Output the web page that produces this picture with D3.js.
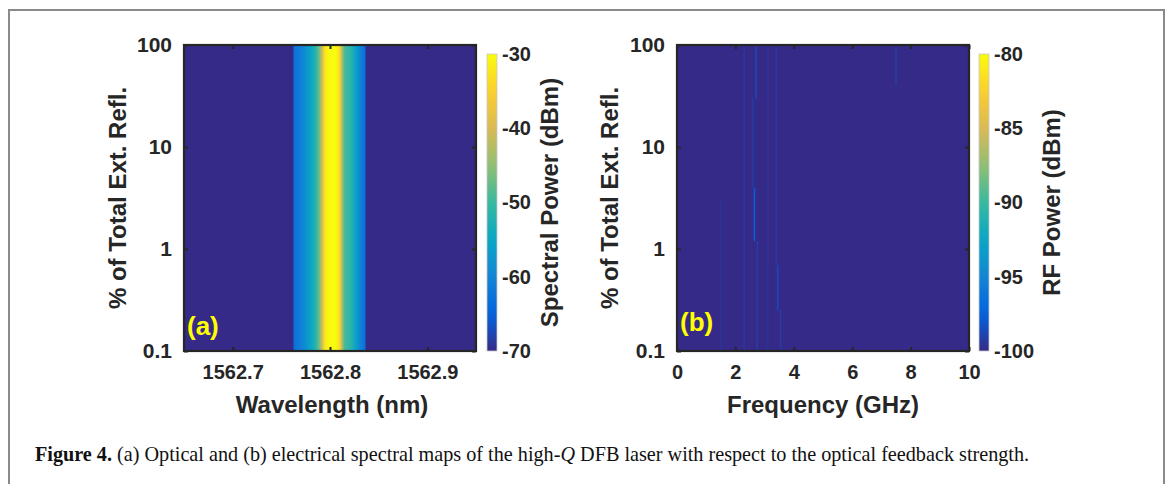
<!DOCTYPE html>
<html>
<head>
<meta charset="utf-8">
<script src="https://cdn.jsdelivr.net/npm/d3@7"></script>
<style>
  body { margin: 0; background: #fff; }
  svg { display: block; }
  .tick text { font-family: "Liberation Sans", Arial, sans-serif; font-weight: bold; font-size: 20px; fill: #262626; }
  .lbl { font-family: "Liberation Sans", Arial, sans-serif; font-weight: bold; font-size: 24px; fill: #262626; }
  .cap { font-family: "Liberation Serif", "DejaVu Serif", serif; font-size: 20.2px; fill: #111; }
</style>
</head>
<body>
<script>

// ---- data ----
// feedback levels (% of total external reflection), row edges of both maps
var feedbackPct = [0.1, 0.2, 0.5, 1, 2, 5, 10, 20, 50, 100];

// (a) optical spectrum, same for every feedback level
var wavelengthNm = [1562.65, 1562.762, 1562.763, 1562.770, 1562.779, 1562.785, 1562.789, 1562.792, 1562.795,
                    1562.800, 1562.806, 1562.810, 1562.812, 1562.815, 1562.822, 1562.827, 1562.832, 1562.836, 1562.837, 1562.95];
var opticalDbm   = [-70, -70, -63, -61, -56, -52, -47, -40, -32,
                    -30, -30, -34, -42, -49, -52, -56, -61, -63, -70, -70];

// (b) RF map: background floor and the few faint streaks
var rfFloorDbm = -100;
var rfStreakGHz     = [2.65, 2.6, 2.7, 2.75, 3.45, 3.4, 3.55, 2.3, 7.5, 1.5, 3.1];
var rfStreakLowPct  = [1.2, 4, 30, 0.1, 0.25, 0.7, 0.1, 0.1, 40, 0.1, 0.1];
var rfStreakHighPct = [4, 30, 100, 1.2, 0.7, 100, 0.25, 100, 100, 3, 100];
var rfStreakDbm     = [-97.8, -99.2, -98.8, -99.2, -98.6, -99.4, -99.2, -99.5, -99.2, -99.6, -99.6];

var yTicks = [0.1, 1, 10, 100];
var wlTicks = [1562.7, 1562.8, 1562.9];
var fTicks = [0, 2, 4, 6, 8, 10];
var cbTicksA = [-70, -60, -50, -40, -30];
var cbTicksB = [-100, -95, -90, -85, -80];

// parula-like colormap
var parula = ["#352a87", "#0363e1", "#1485d4", "#06a7c6", "#38b99e", "#92bf73", "#d9ba56", "#fcce2e", "#f9fb0e"];
var parulaInterp = d3.piecewise(d3.interpolateRgb, parula);

var W = 1171, H = 484;
var svg = d3.select("body").append("svg").attr("width", W).attr("height", H);
var defs = svg.append("defs");

defs.append("filter").attr("id", "soft").attr("x", "-200%").attr("width", "500%")
    .append("feGaussianBlur").attr("stdDeviation", "0.7 0");

// outer frame
svg.append("path")
   .attr("d", "M9,490 L9,10 L1164,10 L1164,490")
   .attr("fill", "none")
   .attr("stroke", "#8a8a8a")
   .attr("stroke-width", 2);

var plotTop = 45, plotBot = 351;
var y = d3.scaleLog().domain([0.1, 100]).range([plotBot, plotTop]);

function hyphen(f) {
    return function(d){ return f(d).replace("\u2212", "-"); };
}

function frameAxes(g, x, xt, xfmt, left, right) {
    g.append("rect")
     .attr("x", left).attr("y", plotTop)
     .attr("width", right - left).attr("height", plotBot - plotTop)
     .attr("fill", "none").attr("stroke", "#262626").attr("stroke-width", 2.2);

    var yl = g.append("g").attr("transform", "translate(" + left + ",0)")
              .call(d3.axisLeft(y).tickValues(yTicks).tickSize(-4).tickPadding(12)
                      .tickFormat(function(d){ return d < 1 ? "0.1" : d3.format("d")(d); }));
    var yr = g.append("g").attr("transform", "translate(" + right + ",0)")
              .call(d3.axisRight(y).tickValues(yTicks).tickSize(-4).tickFormat(""));
    var xbt = g.append("g").attr("transform", "translate(0," + plotBot + ")")
              .call(d3.axisBottom(x).tickValues(xt).tickSize(-4).tickPadding(14).tickFormat(xfmt));
    var xtp = g.append("g").attr("transform", "translate(0," + plotTop + ")")
              .call(d3.axisTop(x).tickValues(xt).tickSize(-4).tickFormat(""));
    [yl, yr, xbt, xtp].forEach(function(a){
        a.select(".domain").remove();
        a.selectAll(".tick line").attr("stroke", "#262626").attr("stroke-width", 2);
    });
    yl.selectAll(".tick text").style("font-size", "21px");
}

function colorbar(g, scale, ticks, x0, label, labelX, id) {
    var cbTop = 54, cbBot = 351, cbW = 10;
    var grad = defs.append("linearGradient").attr("id", id)
                   .attr("x1", 0).attr("y1", 1).attr("x2", 0).attr("y2", 0);
    d3.range(0, 1.0001, 0.05).forEach(function(t){
        grad.append("stop").attr("offset", t).attr("stop-color", parulaInterp(t));
    });
    g.append("rect").attr("x", x0).attr("y", cbTop).attr("width", cbW).attr("height", cbBot - cbTop)
     .attr("fill", "url(#" + id + ")").attr("stroke", "#c8c8c8").attr("stroke-width", 0.8);
    var cy = d3.scaleLinear().domain(scale.domain()).range([cbBot, cbTop]);
    var ax = g.append("g").attr("transform", "translate(" + (x0 + cbW) + ",0)")
              .call(d3.axisRight(cy).tickValues(ticks).tickSize(0).tickPadding(5)
                      .tickFormat(hyphen(d3.format("d"))));
    ax.select(".domain").remove();
    g.append("text").attr("class", "lbl")
     .attr("transform", "translate(" + labelX + "," + ((cbTop + cbBot) / 2) + ") rotate(-90)")
     .attr("text-anchor", "middle").attr("dy", "0.35em").text(label);
}

// ---------- panel (a) ----------
var ga = svg.append("g");
var xa = d3.scaleLinear().domain([1562.65, 1562.95]).range([184, 476]);
var ca = d3.scaleSequential(parulaInterp).domain([-70, -30]);

var gradA = defs.append("linearGradient").attr("id", "specA")
                .attr("gradientUnits", "userSpaceOnUse")
                .attr("x1", xa.range()[0]).attr("x2", xa.range()[1]).attr("y1", 0).attr("y2", 0);
wavelengthNm.forEach(function(w, i){
    gradA.append("stop")
         .attr("offset", (xa(w) - xa.range()[0]) / (xa.range()[1] - xa.range()[0]))
         .attr("stop-color", ca(opticalDbm[i]));
});

ga.selectAll("rect.row").data(d3.pairs(feedbackPct)).enter().append("rect")
  .attr("class", "row")
  .attr("shape-rendering", "crispEdges")
  .attr("x", xa.range()[0]).attr("width", xa.range()[1] - xa.range()[0])
  .attr("y", function(d){ return Math.floor(y(d[1])); })
  .attr("height", function(d){ return Math.ceil(y(d[0]) - y(d[1])) + 1; })
  .attr("fill", "url(#specA)");

frameAxes(ga, xa, wlTicks, d3.format(".1f"), 184, 476);
ga.append("text").attr("class", "lbl").attr("x", 332).attr("y", 405).attr("dy", "0.35em")
  .attr("text-anchor", "middle").text("Wavelength (nm)");
ga.append("text").attr("class", "lbl")
  .attr("transform", "translate(118," + ((plotTop + plotBot) / 2) + ") rotate(-90)")
  .attr("text-anchor", "middle").attr("dy", "0.35em").text("% of Total Ext. Refl.");
ga.append("text").attr("class", "lbl").attr("x", 187).attr("y", 326).attr("dy", "0.35em")
  .style("fill", "#ffff00").style("font-size", "26px").text("(a)");
colorbar(ga, ca, cbTicksA, 487, "Spectral Power (dBm)", 550, "cbA");

// ---------- panel (b) ----------
var gb = svg.append("g");
var xb = d3.scaleLinear().domain([0, 10]).range([677, 969]);
var cb = d3.scaleSequential(parulaInterp).domain([-100, -80]);

gb.selectAll("rect.row").data(d3.pairs(feedbackPct)).enter().append("rect")
  .attr("class", "row")
  .attr("shape-rendering", "crispEdges")
  .attr("x", xb(0)).attr("width", xb(10) - xb(0))
  .attr("y", function(d){ return Math.floor(y(d[1])); })
  .attr("height", function(d){ return Math.ceil(y(d[0]) - y(d[1])) + 1; })
  .attr("fill", cb(rfFloorDbm));

gb.selectAll("rect.streak").data(rfStreakGHz).enter().append("rect")
  .attr("class", "streak")
  .attr("filter", "url(#soft)")
  .attr("x", function(d){ return xb(d) - 0.8; })
  .attr("width", 1.6)
  .attr("y", function(d, i){ return y(rfStreakHighPct[i]); })
  .attr("height", function(d, i){ return y(rfStreakLowPct[i]) - y(rfStreakHighPct[i]); })
  .attr("fill", function(d, i){ return cb(rfStreakDbm[i]); });

frameAxes(gb, xb, fTicks, d3.format("d"), 677, 969);
gb.append("text").attr("class", "lbl").attr("x", 823).attr("y", 405).attr("dy", "0.35em")
  .attr("text-anchor", "middle").text("Frequency (GHz)");
gb.append("text").attr("class", "lbl")
  .attr("transform", "translate(610," + ((plotTop + plotBot) / 2) + ") rotate(-90)")
  .attr("text-anchor", "middle").attr("dy", "0.35em").text("% of Total Ext. Refl.");
gb.append("text").attr("class", "lbl").attr("x", 680).attr("y", 322).attr("dy", "0.35em")
  .style("fill", "#ffff00").style("font-size", "26px").text("(b)");
colorbar(gb, cb, cbTicksB, 979, "RF Power (dBm)", 1052, "cbB");

// ---------- caption ----------
var cap = svg.append("text").attr("class", "cap").attr("x", 35).attr("y", 461);
cap.append("tspan").style("font-weight", "bold").text("Figure 4.");
cap.append("tspan").text(" (a) Optical and (b) electrical spectral maps of the high-");
cap.append("tspan").style("font-style", "italic").text("Q");
cap.append("tspan").text(" DFB laser with respect to the optical feedback strength.");

</script>
</body>
</html>
